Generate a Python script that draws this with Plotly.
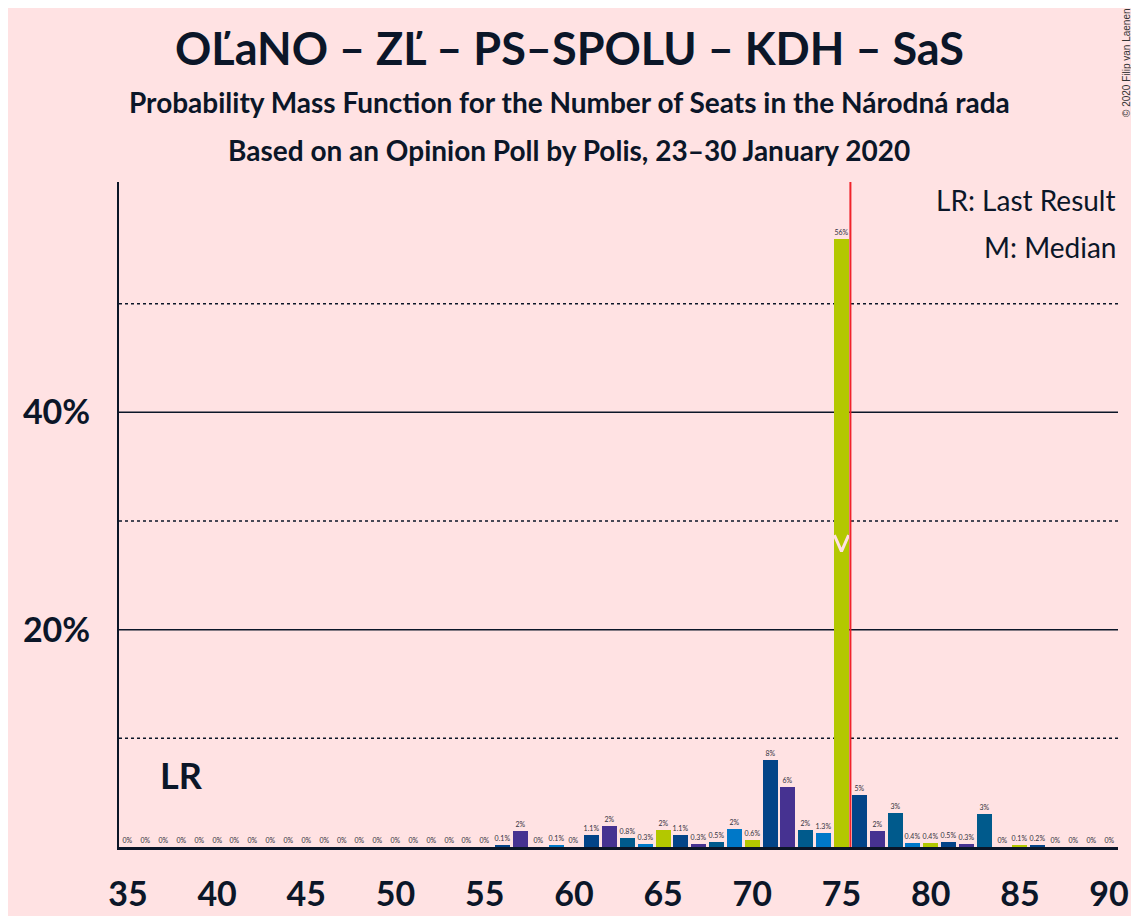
import plotly.graph_objects as go

# --------------
# Data
# --------------
seats = list(range(35, 91))
probs = [
    0, 0, 0, 0, 0, 0, 0, 0, 0, 0,        # 35-44
    0, 0, 0, 0, 0, 0, 0, 0, 0, 0,        # 45-54
    0, 0.1, 1.5, 0, 0.1, 0, 1.1, 1.9,    # 55-62
    0.8, 0.3, 1.6, 1.1, 0.3, 0.5, 1.7,   # 63-69
    0.6, 8.0, 5.5, 1.6, 1.3, 56.0,       # 70-75
    4.8, 1.5, 3.1, 0.4, 0.4, 0.5, 0.3,   # 76-82
    3.0, 0, 0.1, 0.2, 0, 0, 0, 0,        # 83-90
]
last_result = 38
median_seat = 75
majority = 76
y_ticks = [20, 40]
y_tick_text = ["20%", "40%"]
y_dotted = [10, 30, 50]

# seat colours cycle through the five party colours
party_colors = ["#B3C800", "#034488", "#463291", "#005A8C", "#0078C8"]
bar_colors = [party_colors[s % 5] for s in seats]


def fmt(v):
    if v < 0.05:
        return "0%"
    if v < 1.5:
        return f"{v:.1f}%"
    return f"{round(v)}%"


bg = "#FFE2E3"
ink = "#0B1628"
FONT = "Lato"

# the page body has an 8px margin, so the figure sits at (8, 8)
OFF = 8
W, H = 1139 - 2 * OFF, 924 - 2 * OFF
LEFT, RIGHT, TOP, BOTTOM = 119, 1118, 182, 847  # plot area in page pixels


def py(px):
    return (BOTTOM - px) / (BOTTOM - TOP)


def px_x(px):
    return (px - LEFT) / (RIGHT - LEFT)


fig = go.Figure()

fig.add_trace(go.Bar(
    x=seats,
    y=probs,
    width=0.84,
    marker=dict(color=bar_colors, line=dict(width=0)),
    text=[fmt(v) for v in probs],
    textposition="outside",
    textfont=dict(family=FONT, size=7, color="#333340"),
    constraintext="none",
    cliponaxis=False,
    hoverinfo="x+y",
))

# median marker
half = probs[seats.index(median_seat)] / 2
fig.add_trace(go.Scatter(
    x=[median_seat - 0.4, median_seat, median_seat + 0.4],
    y=[half + 0.7, half - 0.8, half + 0.7],
    mode="lines",
    line=dict(color=bg, width=3),
    hoverinfo="skip",
))

shapes = []
for v in y_ticks:
    shapes.append(dict(type="line", xref="paper", x0=0, x1=1, yref="y", y0=v, y1=v,
                       line=dict(color=ink, width=1.5), layer="below"))
for v in y_dotted:
    shapes.append(dict(type="line", xref="paper", x0=0, x1=1, yref="y", y0=v, y1=v,
                       line=dict(color=ink, width=1.5, dash="dot"), layer="below"))
# majority line
shapes.append(dict(type="line", xref="x", x0=majority - 0.5, x1=majority - 0.5,
                   yref="paper", y0=0, y1=1, line=dict(color="#F0222A", width=2)))

annotations = [
    dict(text="<b>OĽaNO – ZĽ – PS–SPOLU – KDH – SaS</b>", x=px_x(569), xref="paper",
         xanchor="center", y=py(48), yref="paper", yanchor="middle",
         showarrow=False, font=dict(family=FONT, size=45, color=ink)),
    dict(text="<b>Probability Mass Function for the Number of Seats in the Národná rada</b>",
         x=px_x(569), xref="paper", xanchor="center", y=py(102), yref="paper",
         yanchor="middle", showarrow=False, font=dict(family=FONT, size=28, color=ink)),
    dict(text="<b>Based on an Opinion Poll by Polis, 23–30 January 2020</b>",
         x=px_x(569), xref="paper", xanchor="center", y=py(150), yref="paper",
         yanchor="middle", showarrow=False, font=dict(family=FONT, size=28, color=ink)),
    dict(text="LR: Last Result", x=1, xref="paper", xanchor="right", y=py(200),
         yref="paper", yanchor="middle", showarrow=False,
         font=dict(family=FONT, size=28, color=ink)),
    dict(text="M: Median", x=1, xref="paper", xanchor="right", y=py(247),
         yref="paper", yanchor="middle", showarrow=False,
         font=dict(family=FONT, size=28, color=ink)),
    dict(text="<b>LR</b>", x=last_result, xref="x", xanchor="center", y=6.6, yref="y",
         yanchor="middle", showarrow=False, font=dict(family=FONT, size=36, color=ink)),
    dict(text="© 2020 Filip van Laenen", x=px_x(1126), xref="paper", xanchor="center",
         y=py(63), yref="paper", yanchor="middle", textangle=-90, showarrow=False,
         font=dict(family="Liberation Sans", size=10, color="#333")),
]

fig.update_layout(
    width=W,
    height=H,
    margin=dict(l=LEFT - OFF, r=W + OFF - RIGHT, t=TOP - OFF, b=H + OFF - BOTTOM),
    paper_bgcolor=bg,
    plot_bgcolor=bg,
    showlegend=False,
    bargap=0,
    shapes=shapes,
    annotations=annotations,
    xaxis=dict(
        range=[34.5, 90.5],
        tick0=35,
        dtick=5,
        automargin=False,
        showgrid=False,
        zeroline=False,
        showline=True,
        linecolor=ink,
        linewidth=3,
        ticks="",
        ticklabelstandoff=15,
        tickfont=dict(family=FONT, size=34, color=ink, weight="bold"),
    ),
    yaxis=dict(
        range=[0, 61.2],
        tickvals=y_ticks,
        ticktext=y_tick_text,
        automargin=False,
        showgrid=False,
        zeroline=False,
        showline=True,
        linecolor=ink,
        linewidth=2,
        ticks="",
        ticklabelstandoff=20,
        tickfont=dict(family=FONT, size=34, color=ink, weight="bold"),
    ),
)

fig.write_html("out.html")
